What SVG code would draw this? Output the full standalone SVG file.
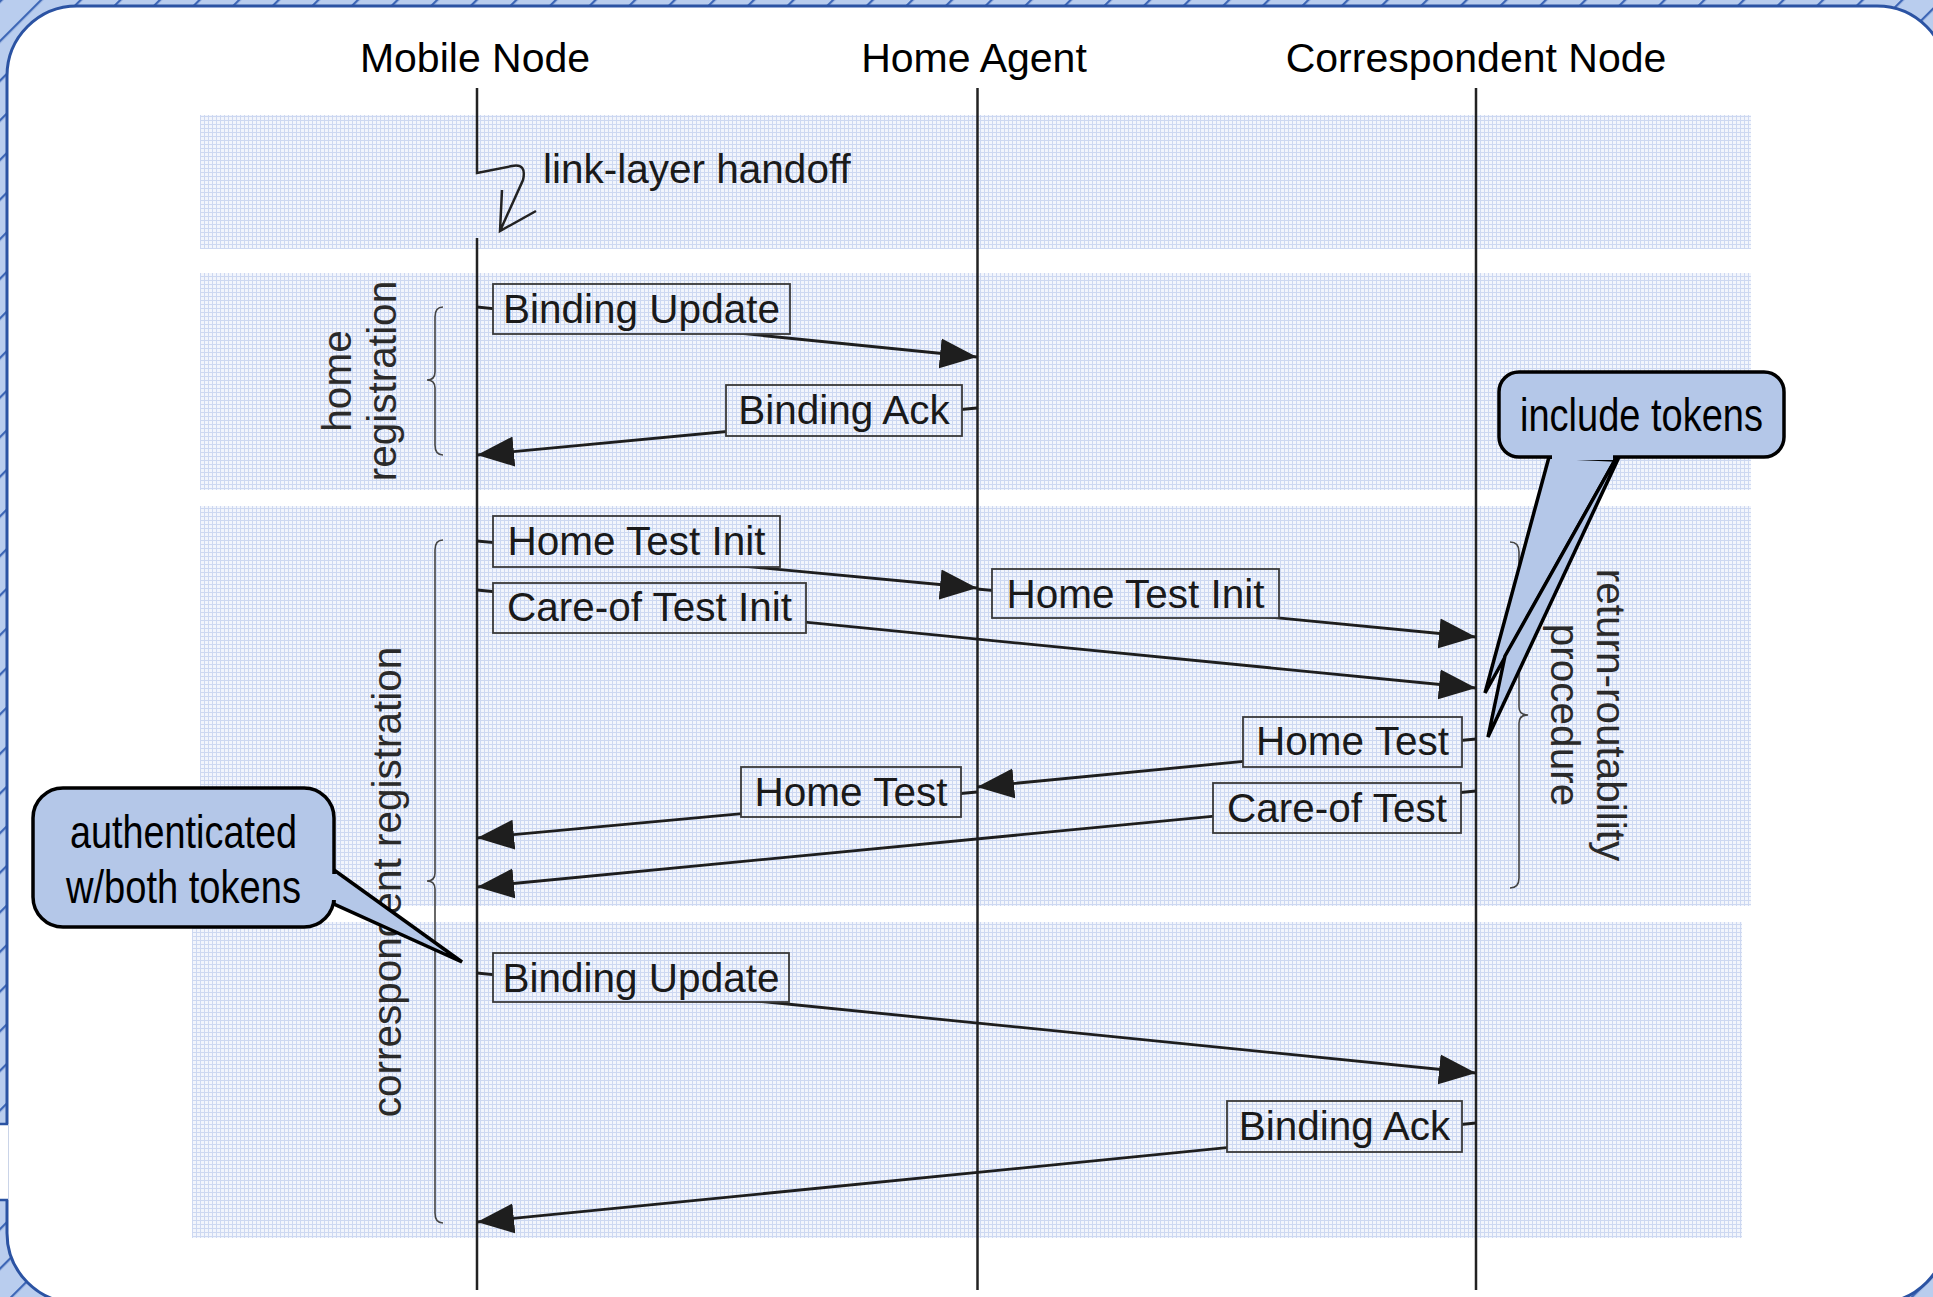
<svg xmlns="http://www.w3.org/2000/svg" width="1933" height="1297" viewBox="0 0 1933 1297">
<defs>
<pattern id="frame" patternUnits="userSpaceOnUse" width="28" height="28" patternTransform="rotate(45)">
  <rect width="28" height="28" fill="#b9cdee"/>
  <line x1="1" y1="0" x2="1" y2="28" stroke="#3d66b6" stroke-width="2.5"/>
</pattern>
<pattern id="grid" patternUnits="userSpaceOnUse" width="4" height="4">
  <rect width="4" height="4" fill="#f2f5fc"/>
  <path d="M0,0.5 H4 M0.5,0 V4" stroke="#cdd8f1" stroke-width="1"/>
</pattern>
<marker id="ah" markerUnits="userSpaceOnUse" markerWidth="38" markerHeight="32" viewBox="0 0 38 32" refX="37" refY="16" orient="auto">
  <path d="M0,1 L37,16 L0,31 Z" fill="#1e1e1e"/>
</marker>
<style>
 .band{fill:url(#grid)}
 .life{stroke:#222;stroke-width:2.5;fill:none}
 .msg{stroke:#1e1e1e;stroke-width:2.8;fill:none;marker-end:url(#ah)}
 .box{fill:url(#grid);stroke:#3a3a3a;stroke-width:1.8}
 .lbl{font-family:"Liberation Sans",Arial,sans-serif;font-size:40.5px;fill:#1a1a1a;text-anchor:middle}
 .side{font-family:"Liberation Sans",Arial,sans-serif;font-size:40.5px;fill:#2a2a2a;text-anchor:middle}
 .title{font-family:"Liberation Sans",Arial,sans-serif;font-size:41px;fill:#000;text-anchor:middle}
 .brace{stroke:#444;stroke-width:1.6;fill:none}
 .callout{fill:#b4c7e8;stroke:#000;stroke-width:3.5;stroke-linejoin:miter}
 .cover{fill:#b4c7e8}
 .ctext{font-family:"Liberation Sans Narrow","Arial Narrow","Liberation Sans",sans-serif;font-size:46px;fill:#000;text-anchor:middle}
</style>
</defs>

<g id="frame-bg">
  <rect width="1933" height="1297" fill="url(#frame)"/>
  <rect x="7" y="6" width="1940" height="1297" rx="70" ry="70" fill="#fff" stroke="#2b53a3" stroke-width="3"/>
  <rect x="0" y="1124" width="8.5" height="76" fill="#fff"/>
  <path d="M0,1124 H8 M0,1200 H8" stroke="#2b53a3" stroke-width="2.5"/>
</g>

<g id="bands">
  <rect class="band" x="200" y="115" width="1551" height="134"/>
  <rect class="band" x="200" y="273" width="1551" height="217"/>
  <rect class="band" x="200" y="506" width="1551" height="400"/>
  <rect class="band" x="192" y="922" width="1550" height="316"/>
</g>

<g id="mobile-node">
  <text class="title" x="475" y="72">Mobile Node</text>
  <path class="life" d="M477,88 V173 L512,166 Q527,163 523,180 L500,231 M502,190 L500,231 L536,211 M477,238 V1290"/>
  <text class="lbl" x="543" y="183" style="text-anchor:start">link-layer handoff</text>
</g>
<g id="home-agent">
  <text class="title" x="974" y="72">Home Agent</text>
  <path class="life" d="M977.5,88 V1290"/>
</g>
<g id="correspondent-node">
  <text class="title" x="1476" y="72">Correspondent Node</text>
  <path class="life" d="M1476,88 V1290"/>
</g>

<g id="connectors">
  <path class="msg" d="M477,307 L977,357"/>
  <path class="msg" d="M977,408 L477,455"/>
  <path class="msg" d="M477,541 L977,588"/>
  <path class="msg" d="M477,590 L1476,688"/>
  <path class="msg" d="M977,589 L1476,637"/>
  <path class="msg" d="M1476,739 L977,787"/>
  <path class="msg" d="M977,792 L477,838"/>
  <path class="msg" d="M1476,791 L477,887"/>
  <path class="msg" d="M477,973 L1476,1073"/>
  <path class="msg" d="M1476,1123 L477,1222"/>
</g>

<g id="msg-bu1"><rect class="box" x="493" y="284" width="297" height="50"/><text class="lbl" x="641.5" y="323">Binding Update</text></g>
<g id="msg-ba1"><rect class="box" x="726" y="385" width="236" height="51"/><text class="lbl" x="844" y="424">Binding Ack</text></g>
<g id="msg-hti1"><rect class="box" x="493" y="516" width="287" height="51"/><text class="lbl" x="636.5" y="555">Home Test Init</text></g>
<g id="msg-coti"><rect class="box" x="493" y="583" width="313" height="50"/><text class="lbl" x="649.5" y="621">Care-of Test Init</text></g>
<g id="msg-hti2"><rect class="box" x="992" y="569" width="287" height="49"/><text class="lbl" x="1135.5" y="608">Home Test Init</text></g>
<g id="msg-ht1"><rect class="box" x="1243" y="717" width="219" height="50"/><text class="lbl" x="1352.5" y="755">Home Test</text></g>
<g id="msg-ht2"><rect class="box" x="741" y="767" width="220" height="50"/><text class="lbl" x="851" y="806">Home Test</text></g>
<g id="msg-cot"><rect class="box" x="1213" y="783" width="248" height="50"/><text class="lbl" x="1337" y="822">Care-of Test</text></g>
<g id="msg-bu2"><rect class="box" x="493" y="953" width="296" height="49"/><text class="lbl" x="641" y="992">Binding Update</text></g>
<g id="msg-ba2"><rect class="box" x="1227" y="1101" width="235" height="51"/><text class="lbl" x="1344.5" y="1140">Binding Ack</text></g>

<g id="home-registration">
  <path class="brace" d="M443,307 Q435,307 435,317 V372 Q435,380 427,380 Q435,380 435,388 V445 Q435,455 443,455"/>
  <text class="side" transform="translate(351,381) rotate(-90)">home</text>
  <text class="side" transform="translate(396,381) rotate(-90)">registration</text>
</g>
<g id="correspondent-registration">
  <path class="brace" d="M443,540 Q435,540 435,550 V873 Q435,881 427,881 Q435,881 435,889 V1213 Q435,1223 443,1223"/>
  <text class="side" transform="translate(401,882) rotate(-90)">correspondent registration</text>
</g>
<g id="return-routability">
  <path class="brace" d="M1510,542 Q1519,542 1519,552 V707 Q1519,715 1528,715 Q1519,715 1519,723 V878 Q1519,888 1510,888"/>
  <text class="side" transform="translate(1597,715) rotate(90)">return-routability</text>
  <text class="side" transform="translate(1551,715) rotate(90)">procedure</text>
</g>

<g id="callout-include-tokens">
  <polygon class="callout" points="1549,457 1485,693 1615,460"/>
  <polygon class="callout" points="1615,460 1505,656 1488,737 1619,457"/>
  <rect class="callout" x="1499" y="372" width="285" height="85" rx="20" ry="20"/>
  <rect class="cover" x="1552" y="454" width="61" height="6"/>
  <text class="ctext" x="1641.5" y="431" textLength="243" lengthAdjust="spacingAndGlyphs">include tokens</text>
</g>
<g id="callout-authenticated">
  <polygon class="callout" points="334,870 462,962 334,904"/>
  <rect class="callout" x="33" y="788" width="301" height="139" rx="30" ry="30"/>
  <rect class="cover" x="330" y="874" width="7" height="26"/>
  <text class="ctext" x="183.5" y="848" textLength="227" lengthAdjust="spacingAndGlyphs">authenticated</text>
  <text class="ctext" x="183.5" y="903" textLength="235" lengthAdjust="spacingAndGlyphs">w/both tokens</text>
</g>
</svg>
